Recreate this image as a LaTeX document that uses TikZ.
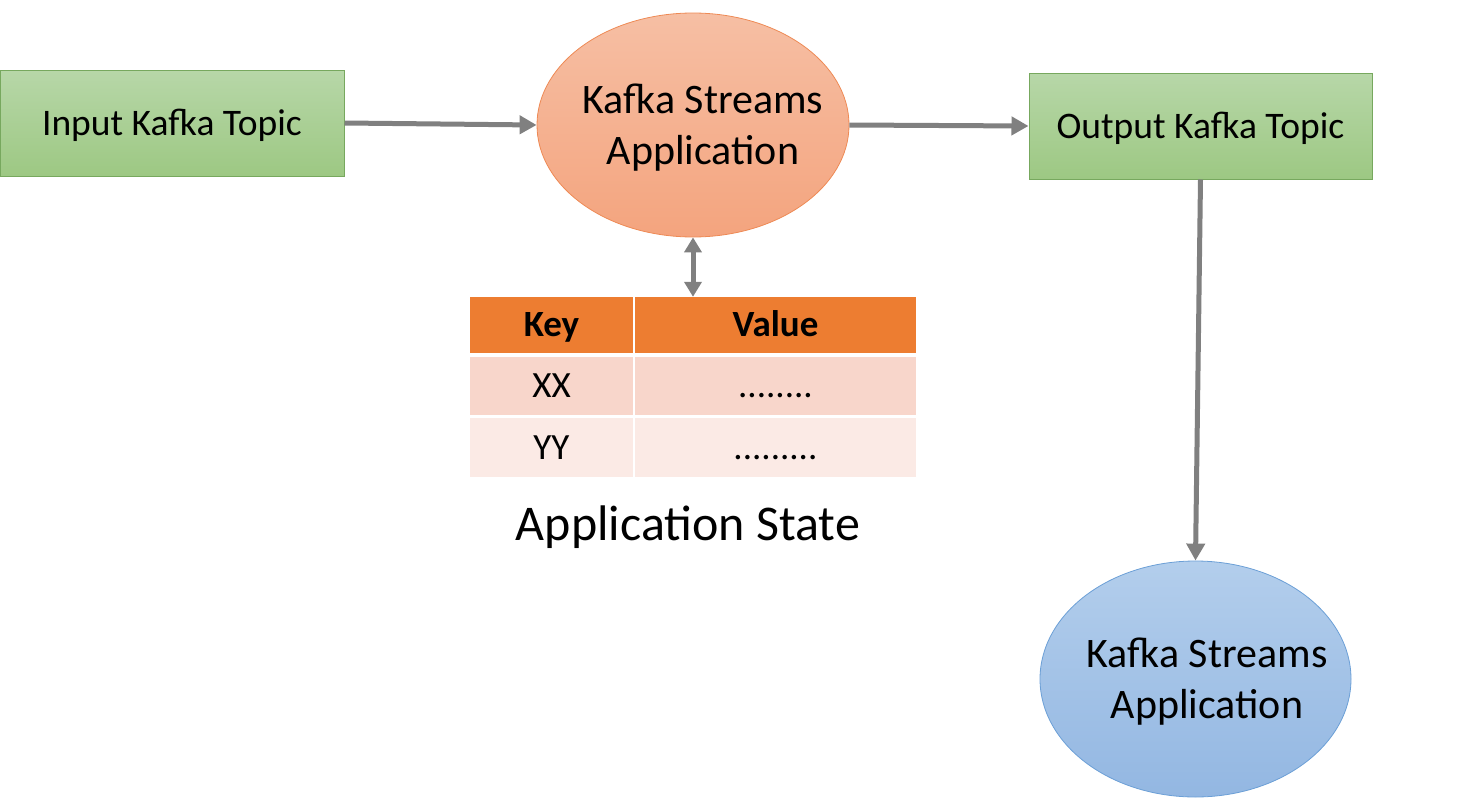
\documentclass[tikz,border=0pt]{standalone}
\usepackage{fontspec}
\setmainfont{Carlito}
\usetikzlibrary{arrows.meta,shapes.geometric,calc}
\definecolor{gtop}{HTML}{B7D7A8}
\definecolor{gbot}{HTML}{9DC883}
\definecolor{gbord}{HTML}{77A85E}
\definecolor{otop}{HTML}{F6BFA4}
\definecolor{obot}{HTML}{F4A47E}
\definecolor{obord}{HTML}{EE8A55}
\definecolor{btop}{HTML}{B3CEEC}
\definecolor{bbot}{HTML}{93B7E2}
\definecolor{bbord}{HTML}{6B9FD6}
\definecolor{arr}{HTML}{808080}
\definecolor{hdr}{HTML}{ED7D31}
\definecolor{rowa}{HTML}{F8D6CB}
\definecolor{rowb}{HTML}{FBEAE5}
\tikzset{
  topic/.style={draw=gbord, line width=1pt, top color=gtop, bottom color=gbot, minimum width=344pt, minimum height=106pt, inner sep=0pt, font=\fontsize{37.5}{45}\selectfont, text height=24pt, text depth=0pt},
  appo/.style={ellipse, draw=obord, line width=0.8pt, top color=otop, bottom color=obot, minimum width=312pt, minimum height=224pt, inner sep=0pt},
  appb/.style={ellipse, draw=bbord, line width=0.8pt, top color=btop, bottom color=bbot, minimum width=311pt, minimum height=236pt, inner sep=0pt},
  flow/.style={draw=arr, line width=5pt, -{Triangle[length=17pt,width=18pt]}},
  bflow/.style={draw=arr, line width=5pt, {Triangle[length=15pt,width=17pt]}-{Triangle[length=15pt,width=17pt]}},
  cell/.style={rectangle, inner sep=0pt, minimum height=#1, text height=23.5pt, text depth=0pt},
  lbl/.style={font=\fontsize{42}{51}\selectfont, align=center},
  tbl/.style={font=\fontsize{37}{44}\selectfont},
}
\begin{document}
\begin{tikzpicture}[x=1pt,y=1pt]
\useasboundingbox (0,0) rectangle (1468,-798);
% nodes
\node[topic] (in) at (172,-123) {Input Kafka Topic};
\node[topic, minimum width=343pt] (out) at (1200.5,-126) {Output Kafka Topic};
\node[appo] (app) at (693,-125) {};
\node[lbl] at (703,-128) {Kafka Streams\\Application};
\node[appb] (app2) at (1195.5,-679) {};
\node[lbl] at (1207,-682) {Kafka Streams\\Application};
% table
\node[cell=56pt, minimum width=163pt, fill=hdr, tbl] (kh) at (551.5,-325) {\bfseries Key};
\node[cell=56pt, minimum width=281pt, fill=hdr, tbl] (vh) at (775.5,-325) {\bfseries Value};
\node[cell=58pt, minimum width=163pt, fill=rowa, tbl] (k1) at (551.5,-386) {XX};
\node[cell=58pt, minimum width=281pt, fill=rowa, tbl] (v1) at (775.5,-386) {........};
\node[cell=59pt, minimum width=163pt, fill=rowb, tbl] (k2) at (551.5,-447.5) {YY};
\node[cell=59pt, minimum width=281pt, fill=rowb, tbl] (v2) at (775.5,-447.5) {.........};
\node[font=\fontsize{50}{60}\selectfont] (state) at (688,-527) {Application State};
% connectors
\draw[flow] (in.east) -- (app.west);
\draw[flow] (app.east) -- (out.west);
\draw[flow] (out.south) -- (app2.north);
\draw[bflow] (app.south) -- (app.south |- vh.north);
\end{tikzpicture}
\end{document}
